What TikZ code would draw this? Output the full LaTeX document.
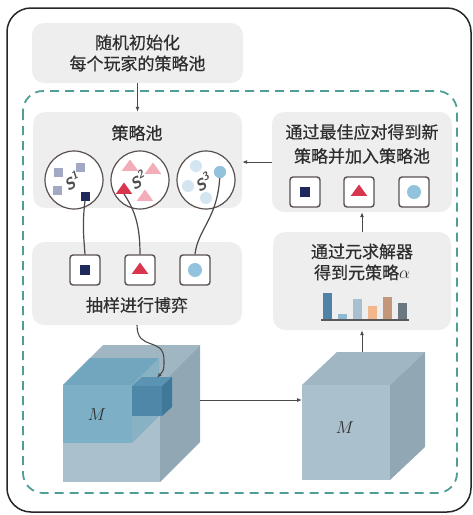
\documentclass[tikz,border=0pt]{standalone}
\usepackage{fontspec}
\newfontfamily\cjk[BoldFont={Noto Sans CJK SC}, BoldFeatures={FakeBold=0.5}]{Noto Sans CJK SC}
\usepackage{tikz}
\usetikzlibrary{arrows.meta,positioning,shapes.geometric}

\definecolor{panelgray}{HTML}{EEEEEE}
\definecolor{dashteal}{HTML}{4F9E96}
\definecolor{chipframe}{HTML}{5A5050}
\definecolor{navy}{HTML}{1F2A5C}
\definecolor{navylight}{HTML}{A3A9C4}
\definecolor{redtri}{HTML}{D8364E}
\definecolor{redlight}{HTML}{F2ADB8}
\definecolor{bluedot}{HTML}{93C2DE}
\definecolor{bluelight}{HTML}{D3E5F1}
\definecolor{linegray}{HTML}{4A4A4A}
\definecolor{txtgray}{HTML}{2E2E2E}
\definecolor{cubefront}{HTML}{AAC0CD}
\definecolor{cubetop}{HTML}{A0B6C3}
\definecolor{cubeside}{HTML}{91A7B4}
\definecolor{blockfront}{HTML}{7DB0C6}
\definecolor{blocktop}{HTML}{72A6BE}
\definecolor{blockside}{HTML}{88B2C4}
\definecolor{cellfront}{HTML}{4E88A9}
\definecolor{celltop}{HTML}{5B94B3}
\definecolor{cellside}{HTML}{3F7898}
\definecolor{barA}{HTML}{4F82A6}
\definecolor{barB}{HTML}{8EB9D1}
\definecolor{barC}{HTML}{A8C0CF}
\definecolor{barD}{HTML}{F2B68C}
\definecolor{barE}{HTML}{C39779}
\definecolor{barF}{HTML}{6B7881}

\begin{document}
\begin{tikzpicture}[x=1pt, y=-1pt,
    font=\cjk\bfseries\fontsize{17}{21}\selectfont, text=txtgray,
    panel/.style={fill=panelgray, rounded corners=12pt, inner sep=0pt},
    pool/.style={circle, draw=chipframe, line width=1.2pt, fill=white, minimum size=58pt, inner sep=0pt},
    chip/.style={draw=chipframe, line width=1.4pt, rounded corners=3pt, fill=white, minimum size=30pt, inner sep=0pt},
    sq/.style={fill=#1, minimum size=9pt, inner sep=0pt},
    tri/.style={regular polygon, regular polygon sides=3, fill=#1, minimum size=15pt, inner sep=0pt, xscale=1.25},
    dot/.style={circle, fill=#1, minimum size=12pt, inner sep=0pt},
    slabel/.style={rotate=30, inner sep=0pt, font=\sffamily\bfseries\itshape\fontsize{16}{16}\selectfont, text=txtgray!85},
    link/.style={linegray, line width=1.2pt},
    arr/.style={-{Latex[length=5pt, width=4pt]}, linegray, line width=0.9pt}
]
\useasboundingbox (0,0) rectangle (473,515);
\draw[line width=1.5pt, rounded corners=24pt, color=black!85] (7,8) rectangle (471,512);
\draw[dashteal, line width=1.8pt, dash pattern=on 9pt off 6pt, rounded corners=20pt] (23,91) rectangle (457,493);

\node[panel, minimum width=211pt, minimum height=60pt] (init) at (137.5,53) {};
\node[align=center] at (init) {随机初始化\\每个玩家的策略池};
\node[panel, minimum width=209pt, minimum height=96pt] (pool) at (137.5,160) {};
\node at (137,133) {策略池};
\node[panel, minimum width=210pt, minimum height=83pt] (play) at (137,283.5) {};
\node at (137,305) {抽样进行博弈};
\node[panel, minimum width=180pt, minimum height=100pt] (best) at (362,162) {};
\node[align=center, font=\cjk\bfseries\fontsize{17}{24}\selectfont] at (362,144) {通过最佳应对得到新\\策略并加入策略池};
\node[panel, minimum width=178pt, minimum height=98pt] (meta) at (362,281) {};
\node[align=center] at (362,262) {通过元求解器\\得到元策略$\alpha$};

\node[pool] (s1) at (74,180) {};
\node[pool] (s2) at (140,180) {};
\node[pool] (s3) at (206,180) {};
\node[sq=navylight] (s1a) at (58,172) {};
\node[sq=navylight] (s1b) at (80,167) {};
\node[sq=navylight] (s1c) at (57,190) {};
\node[sq=navy] (s1d) at (85,196) {};
\node[slabel] at (72,181) {S\textsuperscript{1}};
\node[tri=redlight] (s2a) at (130,167) {};
\node[tri=redlight] (s2b) at (153,170) {};
\node[tri=redlight] (s2c) at (145,197) {};
\node[tri=redtri] (s2d) at (124,190) {};
\node[slabel] at (138,180) {S\textsuperscript{2}};
\node[dot=bluelight] (s3a) at (196,166) {};
\node[dot=bluelight] (s3b) at (188,186) {};
\node[dot=bluelight] (s3c) at (206,198) {};
\node[dot=bluedot] (s3d) at (220,172) {};
\node[slabel] at (203,182) {S\textsuperscript{3}};

\node[chip] (c1) at (85,270) {};
\node[chip] (c2) at (140,270) {};
\node[chip] (c3) at (195,270) {};
\node[sq=navy, minimum size=10pt] at (c1) {};
\node[tri=redtri] at (c2) {};
\node[dot=bluedot, minimum size=14pt] at (c3) {};
\draw[link] (s1d.south) .. controls (82,225) and (84,240) .. (c1.north);
\draw[link] (s2d.south) .. controls (136,212) and (140,228) .. (c2.north);
\draw[link] (s3d.center) .. controls (219,218) and (198,228) .. (c3.north);
\node[dot=bluedot] at (s3d) {};

\node[chip] (b1) at (305,192) {};
\node[chip] (b2) at (359,192) {};
\node[chip] (b3) at (414,192) {};
\node[sq=navy, minimum size=10pt] at (b1) {};
\node[tri=redtri] at (b2) {};
\node[dot=bluedot, minimum size=14pt] at (b3) {};

\foreach \i/\top/\col in {0/293/barA, 1/314/barB, 2/299/barC, 3/306/barD, 4/297/barE, 5/303/barF}
  \fill[\col] ({323+15*\i},319) rectangle ({331.5+15*\i},\top);
\draw[line width=2.5pt, black!65] (321,320) -- (409,320);

% payoff tensor with the sampled sub-block
\fill[cubetop] (63,385) -- (160,385) -- (200,345) -- (103,345) -- cycle;
\fill[cubeside] (160,385) -- (200,345) -- (200,442) -- (160,482) -- cycle;
\fill[cubefront] (63,385) rectangle (160,482);
\fill[blocktop] (63,385) -- (132,385) -- (159,358) -- (90,358) -- cycle;
\fill[blockside] (132,385) -- (159,358) -- (159,416) -- (132,443) -- cycle;
\fill[blockfront] (63,385) rectangle (132,443);
\fill[celltop] (132,386) -- (162,386) -- (172,377) -- (142,377) -- cycle;
\fill[cellside] (162,386) -- (172,377) -- (172,407) -- (162,416) -- cycle;
\fill[cellfront] (132,386) rectangle (162,416);
\node[font=\fontsize{17}{17}\selectfont] (m1) at (97,415) {$M$};
\coordinate (cell) at (157,378);
\coordinate (lcube) at (200,400);

\fill[cubetop] (302,385) -- (390,385) -- (425,352) -- (337,352) -- cycle;
\fill[cubeside] (390,385) -- (425,352) -- (425,447) -- (390,480) -- cycle;
\fill[cubefront] (302,385) rectangle (390,480);
\node[font=\fontsize{17}{17}\selectfont] (m2) at (345,428) {$M$};
\coordinate (rcube) at (302,400);
\coordinate (rtop) at (362,352);

\draw[arr] (init.south) -- (pool.north);
\draw[arr] (best.west) -- (best.west -| pool.east);
\draw[arr] (meta.north) -- (best.south);
\draw[arr] (rtop) -- (meta.south);
\draw[arr] (lcube) -- (rcube);
\draw[arr, line width=1.1pt] (play.south) .. controls (137,352) and (164,336) .. (164,360) .. controls (164,370) .. (cell);
\end{tikzpicture}
\end{document}
